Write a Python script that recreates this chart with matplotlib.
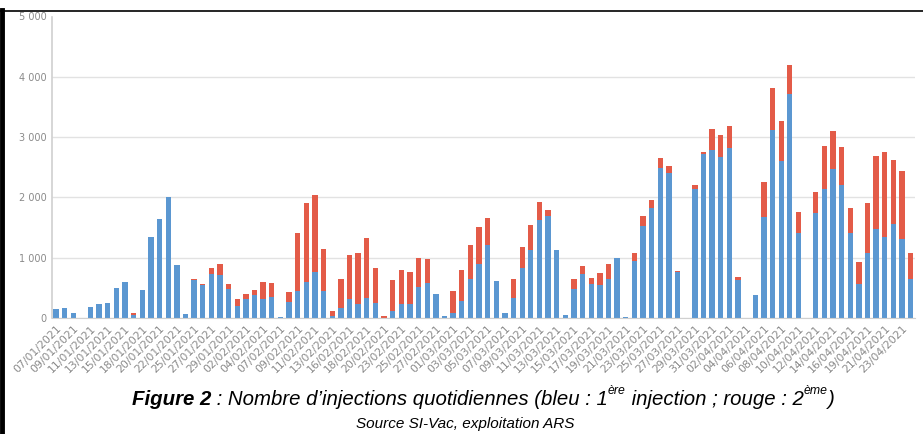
import matplotlib
matplotlib.use("Agg")
import matplotlib.pyplot as plt
from matplotlib import font_manager
from matplotlib.lines import Line2D

# Dates (one bar per day with data) and daily injections
dates = [
    "07/01", "08/01", "09/01", "10/01", "11/01", "12/01", "13/01", "14/01", "15/01", "16/01",
    "18/01", "19/01", "20/01", "21/01", "22/01", "23/01", "25/01", "26/01", "27/01", "28/01",
    "29/01", "30/01", "02/02", "03/02", "04/02", "05/02", "07/02", "08/02", "09/02", "10/02",
    "11/02", "12/02", "13/02", "15/02", "16/02", "17/02", "18/02", "19/02", "20/02", "22/02",
    "23/02", "24/02", "25/02", "26/02", "27/02", "28/02", "01/03", "02/03", "03/03", "04/03",
    "05/03", "06/03", "07/03", "08/03", "09/03", "10/03", "11/03", "12/03", "13/03", "14/03",
    "15/03", "16/03", "17/03", "18/03", "19/03", "20/03", "21/03", "22/03", "23/03", "24/03",
    "25/03", "26/03", "27/03", "28/03", "29/03", "30/03", "31/03", "01/04", "02/04", "03/04",
    "04/04", "05/04", "06/04", "07/04", "08/04", "09/04", "10/04", "11/04", "12/04", "13/04",
    "14/04", "15/04", "16/04", "17/04", "19/04", "20/04", "21/04", "22/04", "23/04", "24/04",
]
dates = [d + "/2021" for d in dates]

first_dose = [
    150, 160, 90, 5, 183, 240, 255, 500, 600, 55,
    470, 1350, 1650, 2000, 878, 60, 633, 555, 728, 717,
    483, 195, 317, 378, 317, 345, 22, 272, 445, 605,
    767, 445, 39, 167, 317, 233, 339, 256, 5, 122,
    239, 239, 506, 583, 400, 33, 78, 289, 650, 890,
    1205, 606, 78, 336, 822, 1133, 1630, 1697, 1130, 50,
    478, 722, 567, 542, 644, 1000, 10, 944, 1525, 1820,
    2488, 2397, 765, 8, 2140, 2714, 2783, 2678, 2817, 622,
    8, 378, 1678, 3117, 2611, 3722, 1406, 8, 1744, 2139,
    2472, 2200, 1406, 572, 1078, 1483, 1339, 1567, 1306, 644,
]
second_dose = [
    0, 0, 0, 0, 0, 0, 0, 0, 0, 20,
    0, 0, 0, 0, 0, 0, 17, 17, 94, 178,
    89, 117, 88, 94, 283, 233, 0, 166, 972, 1307,
    1272, 700, 83, 472, 728, 839, 989, 577, 20, 500,
    561, 516, 494, 395, 0, 0, 377, 500, 556, 621,
    451, 0, 0, 314, 348, 409, 295, 100, 0, 0,
    161, 137, 97, 200, 256, 0, 0, 136, 161, 139,
    168, 117, 15, 0, 63, 31, 356, 355, 361, 56,
    0, 0, 583, 694, 656, 472, 350, 0, 345, 711,
    634, 628, 411, 361, 828, 1211, 1417, 1050, 1138, 439,
]

yticks = [0, 1000, 2000, 3000, 4000, 5000]
ytick_labels = ["0", "1 000", "2 000", "3 000", "4 000", "5 000"]

blue = "#5b97d1"
red = "#e35b48"
grey = "#8a8a8a"

fig = plt.figure(figsize=(9.23, 4.34), dpi=100)
ax = fig.add_axes([52 / 923, 116 / 434, 863 / 923, 301.5 / 434])

x = list(range(len(dates)))
ax.bar(x, first_dose, width=0.62, color=blue, zorder=2)
ax.bar(x, second_dose, width=0.62, bottom=first_dose, color=red, zorder=2)

ax.set_xlim(-0.46, len(dates) - 0.5)
ax.set_ylim(0, 5000)
ax.set_yticks(yticks)
ax.set_yticklabels(ytick_labels, fontsize=7, color=grey)
ax.set_xticks(x[::2])
ax.set_xticklabels(dates[::2], rotation=45, ha="right", rotation_mode="anchor",
                   fontsize=7.8, color=grey)
ax.tick_params(axis="both", length=0, pad=4)
ax.grid(axis="y", color="#e2e2e2", linewidth=1, zorder=0)
ax.get_ygridlines()[-1].set_visible(False)
for side in ["top", "right"]:
    ax.spines[side].set_visible(False)
ax.spines["left"].set_color("#d0d0d0")
ax.spines["bottom"].set_color("#d0d0d0")
ax.spines["left"].set_linewidth(1.2)

# pick a narrow font for the caption if one is installed
names = {f.name for f in font_manager.fontManager.ttflist}
cap_font = "Liberation Sans Narrow" if "Liberation Sans Narrow" in names else "Liberation Sans"

# caption with superscripts, built from runs of text
runs = [
    ("Figure 2", "bold", 0),
    (" : Nombre d\u2019injections quotidiennes (bleu : 1", "normal", 0),
    ("\u00e8re", "normal", 1),
    (" injection ; rouge : 2", "normal", 0),
    ("\u00e8me", "normal", 1),
    (")", "normal", 0),
]
fig.canvas.draw()
renderer = fig.canvas.get_renderer()


def caption(size, x0, draw):
    xpos = x0
    for txt, weight, sup in runs:
        fs = size * 0.6 if sup else size
        yy = (434 - 405) + (size * 0.55 / 72 * 100 if sup else 0)
        t = fig.text(xpos, yy, txt, fontsize=fs, fontstyle="italic", fontweight=weight,
                     family=[cap_font, "DejaVu Sans"], transform=None, va="baseline")
        w = t.get_window_extent(renderer).width
        if not draw:
            t.remove()
        xpos += w
    return xpos - x0


size = 14
width = caption(size, 0, False)
size = size * 705 / width
width = caption(size, 0, False)
caption(size, 483 - width / 2, True)

fig.text(465 / 923, 1 - 424 / 434, "Source SI-Vac, exploitation ARS", fontsize=size * 0.75,
         fontstyle="italic", family=[cap_font, "DejaVu Sans"], ha="center", va="center")

# page border of the screenshot
fig.add_artist(Line2D([0, 1], [1 - 10.5 / 434] * 2, color="black", linewidth=1.2,
                      transform=fig.transFigure))
fig.add_artist(Line2D([2 / 923] * 2, [0, 1 - 10 / 434], color="black", linewidth=3.5,
                      transform=fig.transFigure))

fig.savefig("out.png", dpi=100)
